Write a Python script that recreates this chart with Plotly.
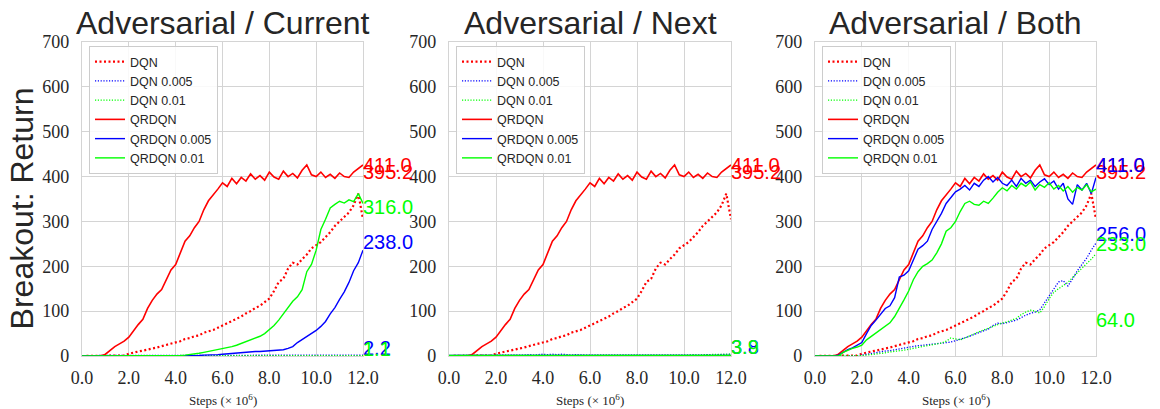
import plotly.graph_objects as go

# ---------------- data ----------------
steps = [0.0, 0.2, 0.4, 0.6, 0.8, 1.0, 1.2, 1.4, 1.6, 1.8,
         2.0, 2.2, 2.4, 2.6, 2.8, 3.0, 3.2, 3.4, 3.6, 3.8,
         4.0, 4.2, 4.4, 4.6, 4.8, 5.0, 5.2, 5.4, 5.6, 5.8,
         6.0, 6.2, 6.4, 6.6, 6.8, 7.0, 7.2, 7.4, 7.6, 7.8,
         8.0, 8.2, 8.4, 8.6, 8.8, 9.0, 9.2, 9.4, 9.6, 9.8,
         10.0, 10.2, 10.4, 10.6, 10.8, 11.0, 11.2, 11.4, 11.6, 11.8,
         12.0]

# shared baselines (unattacked DQN / QRDQN)
dqn = [0, 0, 0, 0, 0, 0, 0, 0, 0, 1,
       5, 8, 10, 12, 14, 16, 19, 22, 25, 28,
       31, 33, 38, 40, 44, 46, 52, 55, 58, 63,
       68, 72, 77, 82, 88, 95, 100, 107, 112, 120,
       128, 145, 165, 172, 195, 208, 204, 216, 226, 240,
       248, 254, 265, 276, 290, 300, 312, 320, 336, 362,
       305]
qrdqn = [0, 0, 0, 0, 0, 4, 13, 21, 27, 33,
         42, 57, 70, 82, 106, 124, 138, 148, 170, 192,
         204, 228, 256, 268, 286, 300, 326, 346, 358, 372,
         386, 378, 396, 384, 398, 390, 406, 394, 402, 392,
         410, 399, 394, 412, 400, 407, 397, 414, 426, 404,
         400, 410, 398, 405, 396, 408, 400, 398, 410, 418,
         426]

# Adversarial / Current
cur_dqn_005 = [1, 1, 1, 1, 2, 1, 1, 2, 1, 1,
               2, 1, 1, 2, 1, 1, 2, 1, 1, 2,
               1, 1, 2, 1, 1, 2, 1, 1, 2, 1,
               1, 2, 1, 1, 2, 1, 1, 2, 1, 1,
               2, 1, 1, 2, 1, 1, 2, 1, 1, 2,
               1, 1, 2, 1, 1, 2, 1, 1, 2, 1,
               2]
cur_dqn_01 = [1, 1, 1, 2, 1, 1, 1, 1, 2, 1,
              1, 1, 2, 1, 1, 1, 1, 2, 1, 1,
              1, 2, 1, 1, 1, 1, 2, 1, 1, 1,
              2, 1, 1, 1, 1, 2, 1, 1, 1, 2,
              1, 1, 1, 1, 2, 1, 1, 1, 2, 1,
              1, 1, 1, 2, 1, 1, 1, 2, 1, 1,
              1]
cur_qr_005 = [0, 0, 0, 0, 0, 0, 0, 0, 0, 0,
              0, 0, 0, 0, 0, 0, 0, 0, 0, 0,
              0, 0, 0, 0.5, 1, 1, 2, 2, 3, 3,
              4, 5, 6, 7, 8, 8, 9, 10, 10, 11,
              12, 12, 13, 14, 17, 21, 30, 37, 44, 50,
              57, 66, 77, 94, 108, 126, 143, 164, 190, 208,
              236]
cur_qr_01 = [0, 0, 0, 0, 0, 0, 0, 0, 0, 0,
             0, 0, 0, 0, 0, 0, 0, 0, 0, 0,
             1, 1, 2, 3, 4, 6, 8, 10, 12, 14,
             16, 18, 21, 24, 28, 31, 35, 39, 44, 50,
             58, 68, 80, 94, 108, 122, 132, 148, 188, 204,
             236, 282, 305, 330, 338, 345, 341, 348, 344, 362,
             340]

# Adversarial / Next
next_dqn_005 = [1, 1, 1, 1, 1, 1, 1, 1, 1, 1,
                1, 1, 1, 2, 1, 2, 2, 3, 2, 3,
                4, 3, 4, 3, 4, 3, 2, 3, 2, 2,
                2, 2, 1, 2, 2, 1, 2, 2, 2, 1,
                2, 2, 1, 2, 2, 2, 1, 2, 2, 2,
                1, 2, 2, 2, 2, 3, 2, 3, 3, 3,
                4]
next_dqn_01 = [1, 1, 1, 1, 1, 1, 1, 1, 1, 1,
               1, 1, 1, 1, 1, 1, 2, 1, 1, 2,
               2, 2, 2, 2, 2, 1, 2, 2, 1, 2,
               2, 1, 2, 2, 2, 1, 2, 2, 2, 2,
               1, 2, 2, 2, 2, 2, 2, 2, 2, 2,
               2, 2, 3, 2, 3, 3, 3, 3, 3, 4,
               4]
next_qr_005 = [1, 1, 1, 1, 1, 1, 1, 1, 1, 1,
               1, 1, 1, 1, 1, 1, 1, 1, 1, 1,
               1, 1, 1, 1, 1, 1, 1, 1, 1, 1,
               1, 1, 1, 1, 1, 1, 1, 1, 1, 1,
               1, 1, 1, 1, 1, 1, 1, 1, 1, 1,
               1, 1, 1, 1, 1, 1, 1, 1, 1, 1,
               1]
next_qr_01 = [1, 1, 1, 1, 1, 1, 1, 1, 1, 1,
              1, 1, 1, 1, 1, 1, 1, 1, 1, 1,
              1, 1, 1, 1, 1, 1, 1, 1, 1, 1,
              1, 1, 1, 1, 1, 1, 1, 1, 1, 1,
              1, 1, 1, 1, 1, 1, 1, 1, 1, 1,
              1, 1, 1, 1, 1, 1, 1, 1, 1, 1,
              1]

# Adversarial / Both
both_dqn_005 = [0, 0, 0, 0, 0, 0, 0, 0, 0, 0.5,
                2, 4, 6, 8, 10, 11, 12, 14, 15, 17,
                19, 21, 23, 24, 25, 26, 27, 28, 29, 31,
                34, 37, 40, 44, 48, 52, 55, 60, 68, 73,
                72, 74, 77, 80, 86, 91, 95, 98, 103, 118,
                135, 148, 165, 168, 156, 172, 190, 204, 218, 236,
                252]
both_dqn_01 = [0, 0, 0, 0, 0, 0, 0, 0, 0, 0,
               1, 2, 3, 4, 6, 7, 9, 10, 11, 13,
               15, 17, 19, 21, 23, 25, 27, 29, 33, 40,
               38, 36, 40, 45, 50, 54, 58, 62, 66, 70,
               74, 76, 80, 84, 92, 98, 102, 100, 96, 110,
               128, 142, 150, 158, 164, 175, 186, 196, 206, 216,
               228]
both_qr_005 = [0, 0, 0, 0, 0, 2, 9, 14, 18, 24,
               30, 50, 68, 80, 94, 106, 112, 130, 176, 180,
               190, 216, 238, 246, 256, 282, 300, 318, 340, 352,
               366, 372, 380, 370, 385, 378, 392, 400, 388, 398,
               385, 380, 392, 378, 396, 385, 392, 378, 388, 395,
               382, 390, 372, 385, 350, 338, 382, 370, 385, 362,
               398]
both_qr_01 = [0, 0, 0, 0, 0, 0, 8, 13, 17, 20,
              24, 36, 44, 52, 60, 66, 74, 88, 105, 125,
              145, 170, 188, 200, 206, 214, 230, 250, 278, 286,
              300, 322, 340, 345, 338, 336, 345, 340, 352, 365,
              375, 368, 380, 372, 385, 378, 388, 370, 382, 376,
              386, 372, 380, 368, 378, 365, 376, 370, 382, 366,
              372]

series_names = ["DQN", "DQN 0.005", "DQN 0.01", "QRDQN", "QRDQN 0.005", "QRDQN 0.01"]
panel_titles = ["Adversarial / Current", "Adversarial / Next", "Adversarial / Both"]
panel_series = [
    [dqn, cur_dqn_005, cur_dqn_01, qrdqn, cur_qr_005, cur_qr_01],
    [dqn, next_dqn_005, next_dqn_01, qrdqn, next_qr_005, next_qr_01],
    [dqn, both_dqn_005, both_dqn_01, qrdqn, both_qr_005, both_qr_01],
]
# end-of-run value labels (text per series, per panel)
end_labels = [
    ["395.2", "2.2", "1.1", "411.0", "238.0", "316.0"],
    ["395.2", "3.8", "3.9", "411.0", None, None],
    ["395.2", "256.0", "233.0", "411.0", "411.0", "64.0"],
]
x_ticks = [0, 2, 4, 6, 8, 10, 12]
x_ticktext = ["0.0", "2.0", "4.0", "6.0", "8.0", "10.0", "12.0"]
y_ticks = [0, 100, 200, 300, 400, 500, 600, 700]

# ---------------- styling ----------------
colors = ["#ff0000", "#0000ff", "#00ff00", "#ff0000", "#0000ff", "#00ff00"]
dashes = ["2px,2.5px", "1.2px,1.6px", "1.2px,1.6px", "solid", "solid", "solid"]
widths = [2.2, 1.3, 1.3, 1.6, 1.4, 1.4]

W, H = 1160, 409
ML, MR, MT, MB = 82, 64, 42, 53
PW = W - ML - MR
PH = H - MT - MB

def px_x(p):
    return (p - ML) / PW

def px_y(p):
    return (H - MB - p) / PH

domains = [[px_x(82), px_x(363)], [px_x(449), px_x(731)], [px_x(815), px_x(1096)]]
legend_x = [px_x(89), px_x(456), px_x(822)]

fig = go.Figure()
legend_ids = ["legend", "legend2", "legend3"]
for p in range(3):
    xa = "x" if p == 0 else f"x{p+1}"
    ya = "y" if p == 0 else f"y{p+1}"
    for i, name in enumerate(series_names):
        fig.add_trace(go.Scatter(
            x=steps, y=panel_series[p][i], mode="lines", name=name,
            line=dict(color=colors[i], dash=dashes[i], width=widths[i]),
            xaxis=xa, yaxis=ya, legend=legend_ids[p], hoverinfo="skip"))

grid_c = "#d4d4d4"
tick_font = dict(family="Liberation Serif", size=18, color="#262626")
layout = dict(
    width=W, height=H,
    margin=dict(l=ML, r=MR, t=MT, b=MB),
    plot_bgcolor="white", paper_bgcolor="white",
    showlegend=True,
)
for p in range(3):
    suf = "" if p == 0 else str(p + 1)
    layout["xaxis" + suf] = dict(
        domain=domains[p], range=[0, 12], tickvals=x_ticks, ticktext=x_ticktext,
        showgrid=True, gridcolor=grid_c, gridwidth=1,
        showline=True, linecolor=grid_c, linewidth=1.2, mirror=True,
        zeroline=False, ticks="", tickfont=tick_font, ticklabelstandoff=5,
        anchor="y" + suf)
    layout["yaxis" + suf] = dict(
        range=[0, 700], tickvals=y_ticks,
        showgrid=True, gridcolor=grid_c, gridwidth=1,
        showline=True, linecolor=grid_c, linewidth=1.2, mirror=True,
        zeroline=False, ticks="", tickfont=tick_font, ticklabelstandoff=8,
        anchor="x" + suf)
    layout[legend_ids[p]] = dict(
        x=legend_x[p], y=px_y(46), xanchor="left", yanchor="top",
        bgcolor="rgba(255,255,255,0.85)", bordercolor="#cccccc", borderwidth=1,
        font=dict(family="Liberation Sans", size=12.5, color="#262626"),
        itemwidth=30, tracegroupgap=0)
fig.update_layout(**layout)

annotations = []
for p in range(3):
    cx = (domains[p][0] + domains[p][1]) / 2
    annotations.append(dict(
        text=panel_titles[p], xref="paper", yref="paper", x=cx, y=1,
        xanchor="center", yanchor="bottom", yshift=-1, showarrow=False,
        font=dict(family="Liberation Sans", size=32, color="#262626")))
    annotations.append(dict(
        text="Steps (× 10<sup>6</sup>)", xref="paper", yref="paper", x=cx,
        y=px_y(400), xanchor="center", yanchor="middle", showarrow=False,
        font=dict(family="Liberation Serif", size=13, color="#262626")))
    xr = "x" if p == 0 else f"x{p+1}"
    yr = "y" if p == 0 else f"y{p+1}"
    for i, lab in enumerate(end_labels[p]):
        if lab is None:
            continue
        annotations.append(dict(
            text=lab, xref=xr, yref=yr, x=steps[-1], y=float(lab),
            xanchor="left", yanchor="bottom", yshift=-6, xshift=-2, showarrow=False,
            font=dict(family="Liberation Sans", size=20, color=colors[i])))
annotations.append(dict(
    text="Breakout: Return", xref="paper", yref="paper", x=px_x(22), y=0.47,
    xanchor="center", yanchor="middle", textangle=-90, showarrow=False,
    font=dict(family="Liberation Sans", size=32, color="#262626")))
fig.update_layout(annotations=annotations)

fig.write_html("out.html", config={"displayModeBar": False},
               post_script="document.body.style.margin='0px';")
